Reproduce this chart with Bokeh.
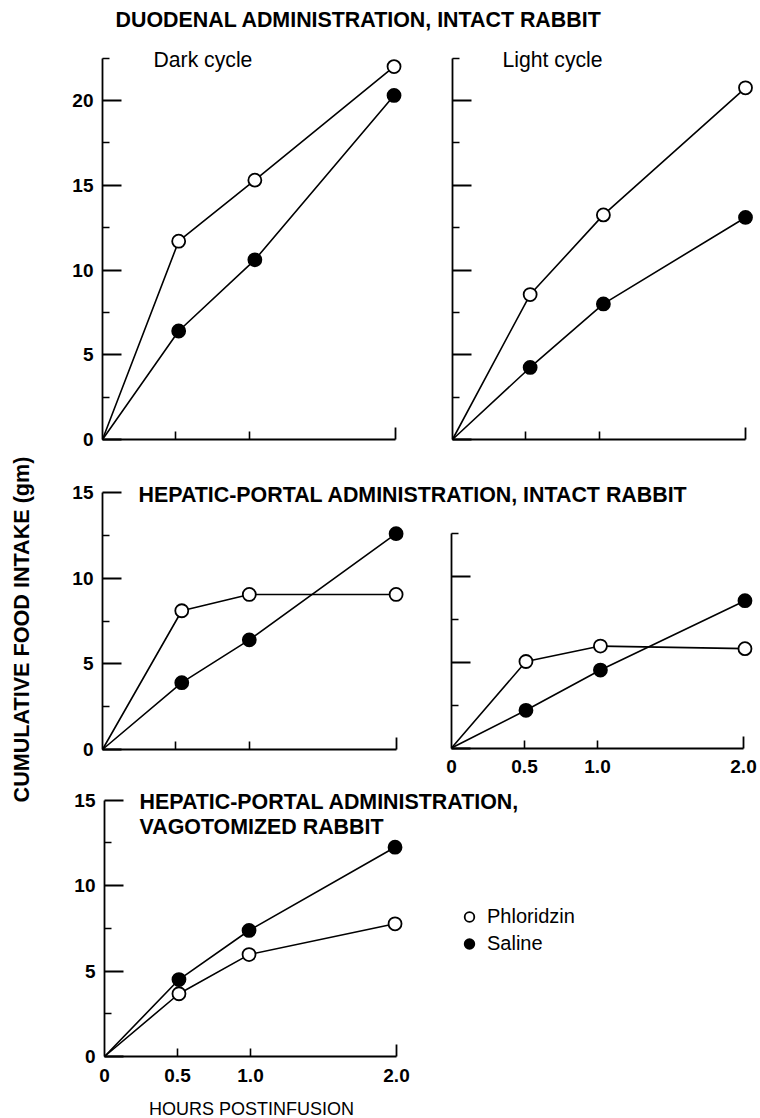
import math
from bokeh.plotting import figure
from bokeh.models import Range1d, LinearAxis, FixedTicker, Label, Legend, LegendItem
from bokeh.embed import file_html
from bokeh.resources import INLINE

# ---------------- data ----------------
series_names = ["Phloridzin", "Saline"]

# top-left: duodenal, intact, dark cycle
tl_hours = [0, 0.52, 1.04, 1.99]
tl_phloridzin = [0, 11.7, 15.3, 22.0]
tl_saline = [0, 6.4, 10.6, 20.3]

# top-right: duodenal, intact, light cycle
tr_hours = [0, 0.53, 1.03, 2.0]
tr_phloridzin = [0, 8.55, 13.25, 20.75]
tr_saline = [0, 4.25, 8.0, 13.1]

# middle-left: hepatic-portal, intact (dark)
ml_hours = [0, 0.54, 1.0, 2.0]
ml_phloridzin = [0, 8.1, 9.05, 9.05]
ml_saline = [0, 3.9, 6.4, 12.6]

# middle-right: hepatic-portal, intact (light)
mr_hours = [0, 0.51, 1.02, 2.01]
mr_phloridzin = [0, 5.05, 5.95, 5.8]
mr_saline = [0, 2.2, 4.55, 8.6]

# bottom: hepatic-portal, vagotomized
bt_hours = [0, 0.51, 0.99, 1.99]
bt_phloridzin = [0, 3.67, 5.96, 7.76]
bt_saline = [0, 4.5, 7.37, 12.24]

x_tick_values = [0, 0.5, 1.0, 2.0]
x_tick_labels = ["0", "0.5", "1.0", "2.0"]
y_major_top = [0, 5, 10, 15, 20]
y_minor_top = [2.5, 7.5, 12.5, 17.5, 22.5]
y_major_15 = [0, 5, 10, 15]
y_minor_15 = [2.5, 7.5, 12.5]
y_major_12 = [0, 5, 10]
y_minor_12 = [2.5, 7.5, 12.5]

titles = ["DUODENAL ADMINISTRATION, INTACT RABBIT",
          "HEPATIC-PORTAL ADMINISTRATION, INTACT RABBIT",
          "HEPATIC-PORTAL ADMINISTRATION,",
          "VAGOTOMIZED RABBIT"]
cycle_labels = ["Dark cycle", "Light cycle"]
y_axis_title = "CUMULATIVE FOOD INTAKE (gm)"
x_axis_title = "HOURS POSTINFUSION"

# ---------------- layout ----------------
FONT = "Liberation Sans"
W, H = 760, 1118
PX0, PY0 = 0, 0

p = figure(width=W, height=H,
           x_range=Range1d(PX0, PX0 + W), y_range=Range1d(PY0 + H, PY0),
           x_axis_location=None, y_axis_location=None,
           toolbar_location=None, output_backend="svg",
           min_border=0, outline_line_color=None,
           background_fill_color="white", border_fill_color="white")
p.grid.visible = False

extra_x = {}
extra_y = {}
renderers = {}


def add_panel(name, ox, oy, kx, ky, hours, phl, sal, ytop, ymaj, ymin,
              ylabels, xlabels):
    xn, yn = name + "_x", name + "_y"
    extra_x[xn] = Range1d((PX0 - ox) / kx, (PX0 + W - ox) / kx)
    extra_y[yn] = Range1d((oy - (PY0 + H)) / ky, (oy - PY0) / ky)

    common = dict(x_range_name=xn, y_range_name=yn, fixed_location=0,
                  axis_line_color="black", axis_line_width=1.8,
                  major_tick_line_color="black", major_tick_line_width=1.8,
                  minor_tick_line_color="black", minor_tick_line_width=1.6,
                  major_tick_out=0, minor_tick_out=0,
                  major_label_text_font=FONT,
                  major_label_text_font_style="bold",
                  major_label_text_font_size="19px",
                  major_label_text_color="black")

    ya = LinearAxis(bounds=(0, ytop),
                    ticker=FixedTicker(ticks=ymaj, minor_ticks=ymin),
                    major_tick_in=19, minor_tick_in=7,
                    major_label_standoff=9, **common)
    if not ylabels:
        ya.major_label_text_color = None
    p.add_layout(ya, "left")

    xa = LinearAxis(bounds=(0, x_tick_values[-1]),
                    ticker=FixedTicker(ticks=[x_tick_values[-1]],
                                       minor_ticks=x_tick_values[1:-1]),
                    major_tick_in=12, minor_tick_in=8, **common)
    xa.major_label_text_color = None
    p.add_layout(xa, "below")

    if xlabels:
        xl = LinearAxis(ticker=FixedTicker(ticks=x_tick_values, minor_ticks=[]),
                        major_label_overrides=dict(zip(x_tick_values, x_tick_labels)),
                        major_label_standoff=12, **common)
        xl.axis_line_color = None
        xl.major_tick_line_color = None
        xl.minor_tick_line_color = None
        p.add_layout(xl, "below")

    kw = dict(x_range_name=xn, y_range_name=yn)
    p.line(hours, phl, line_color="black", line_width=1.6, **kw)
    p.line(hours, sal, line_color="black", line_width=1.6, **kw)
    r_phl = p.scatter(hours[1:], phl[1:], size=13, marker="circle",
                      fill_color="white", line_color="black", line_width=1.8, **kw)
    r_sal = p.scatter(hours[1:], sal[1:], size=13, marker="circle",
                      fill_color="black", line_color="black", line_width=1.8, **kw)
    renderers[name] = (r_phl, r_sal)


add_panel("tl", 102, 439, 146.5, 16.95, tl_hours, tl_phloridzin, tl_saline,
          22.5, y_major_top, y_minor_top, True, False)
add_panel("tr", 452, 439, 146.5, 16.95, tr_hours, tr_phloridzin, tr_saline,
          22.5, y_major_top, y_minor_top, False, False)
add_panel("ml", 102, 749, 146.8, 17.13, ml_hours, ml_phloridzin, ml_saline,
          15, y_major_15, y_minor_15, True, False)
add_panel("mr", 451, 747.5, 146.0, 17.13, mr_hours, mr_phloridzin, mr_saline,
          12.5, y_major_12, y_minor_12, False, True)
add_panel("bt", 104, 1056, 146.0, 17.1, bt_hours, bt_phloridzin, bt_saline,
          15, y_major_15, y_minor_15, True, True)

p.extra_x_ranges = extra_x
p.extra_y_ranges = extra_y


def label(x, y, text, size, bold=False, angle=0.0, align="left"):
    p.add_layout(Label(x=x, y=y, text=text, text_font=FONT,
                       text_font_size=size,
                       text_font_style="bold" if bold else "normal",
                       text_color="black", text_align=align,
                       text_baseline="alphabetic", angle=angle))


label(115, 19, titles[0], "21.4px", bold=True)
label(153, 59, cycle_labels[0], "21.2px")
label(502, 59, cycle_labels[1], "21.2px")
label(138, 494.5, titles[1], "21.4px", bold=True)
label(139, 801, titles[2], "21.4px", bold=True)
label(139, 826, titles[3], "21.4px", bold=True)
label(20.5, 629, y_axis_title, "21.6px", bold=True, angle=math.pi / 2, align="center")
label(251, 1108, x_axis_title, "18px", align="center")

r_phl, r_sal = renderers["bt"]
legend = Legend(items=[LegendItem(label=series_names[0], renderers=[r_phl]),
                       LegendItem(label=series_names[1], renderers=[r_sal])],
                location=(457 - PX0, (PY0 + H) - 957),
                glyph_width=24, glyph_height=27, spacing=0, padding=0, margin=0,
                label_standoff=6, label_text_font=FONT,
                label_text_font_size="20px", label_text_color="black",
                background_fill_alpha=0, border_line_color=None)
p.add_layout(legend)

open("out.html", "w").write(file_html(p, INLINE))
